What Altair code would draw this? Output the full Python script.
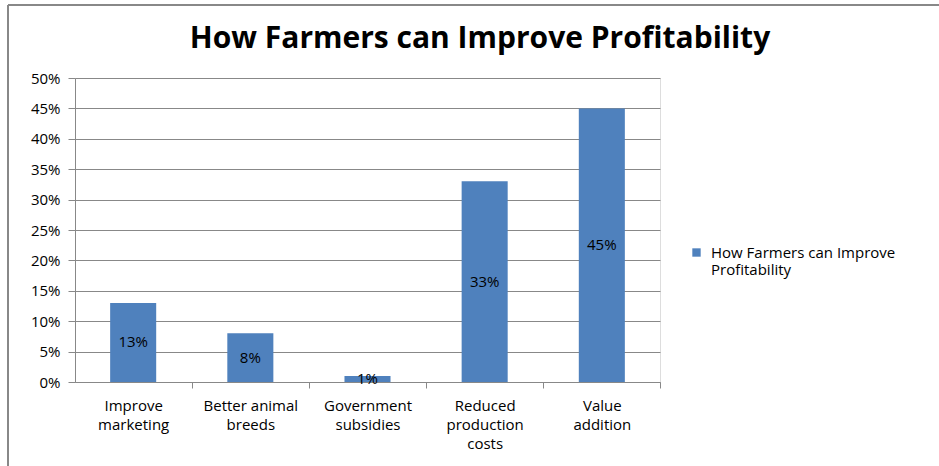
import altair as alt
import pandas as pd

categories = ["Improve marketing", "Better animal breeds", "Government subsidies",
              "Reduced production costs", "Value addition"]
values = [0.13, 0.08, 0.01, 0.33, 0.45]
labels = ["13%", "8%", "1%", "33%", "45%"]
series = "How Farmers can Improve Profitability"
y_ticks = [0.0, 0.05, 0.1, 0.15, 0.2, 0.25, 0.3, 0.35, 0.4, 0.45, 0.5]

df = pd.DataFrame({"cat": categories, "val": values, "lab": labels, "series": series})

FONT = "Open Sans"
FS = 15
W, H = 585, 304
STEP = W / len(categories)

x_axis = alt.Axis(labelAngle=0, labelFont=FONT, labelFontSize=FS,
                  labelColor="#000000", domainColor="#888888", tickColor="#888888",
                  tickSize=6, labelPadding=10, labelLimit=200, labelLineHeight=19,
                  tickOffset=STEP / 2, labelOffset=-STEP / 2,
                  labelExpr="datum.value == 'Improve marketing' ? ['Improve','marketing'] : datum.value == 'Better animal breeds' ? ['Better animal','breeds'] : datum.value == 'Government subsidies' ? ['Government','subsidies'] : datum.value == 'Reduced production costs' ? ['Reduced','production','costs'] : ['Value','addition']")
y_axis = alt.Axis(format=".0%", values=y_ticks,
                  labelOverlap=False,
                  labelFont=FONT, labelFontSize=FS, labelColor="#000000",
                  domainColor="#888888", tickColor="#888888", tickSize=7,
                  gridColor="#888888", gridWidth=1, labelPadding=8)

x = alt.X("cat:N", sort=categories, title=None,
          scale=alt.Scale(paddingInner=0.607, paddingOuter=0.3), axis=x_axis)
y = alt.Y("val:Q", title=None, scale=alt.Scale(domain=[0, 0.5], nice=False), axis=y_axis)

bars = alt.Chart(df).mark_bar(color="#4F81BD").encode(
    x=x, y=y,
    color=alt.Color("series:N", scale=alt.Scale(range=["#4F81BD"]),
                    legend=alt.Legend(title=None, orient="none", legendX=614, legendY=167,
                                      symbolType="square", symbolSize=70,
                                      symbolStrokeWidth=0, symbolOffset=0,
                                      labelFont=FONT, labelFontSize=FS, labelColor="#000000",
                                      labelLimit=300, labelOffset=7,
                                      labelExpr="['How Farmers can Improve', 'Profitability']")),
)

text = alt.Chart(df).transform_calculate(val="datum.val / 2").mark_text(
    font=FONT, fontSize=FS, color="#000000").encode(
    x=x, y=y, text="lab:N")

frame_top = alt.Chart(df).mark_rule(color="#888888", strokeWidth=2, clip=False).encode(
    x=alt.value(-67), x2=alt.value(864), y=alt.value(-73))
frame_left = alt.Chart(df).mark_rule(color="#888888", strokeWidth=2, clip=False).encode(
    x=alt.value(-67), y=alt.value(-73), y2=alt.value(388))

title = alt.Chart(pd.DataFrame({"t": [series]})).mark_text(
    font=FONT, fontSize=30, fontWeight="bold", color="#000000",
    align="center", baseline="alphabetic").encode(
    x=alt.value(405), y=alt.value(-30), text="t:N")

chart = alt.layer(bars, text, frame_top, frame_left, title).properties(
    width=W, height=H,
    padding={"left": 75, "top": 78, "right": 939 - 75 - W, "bottom": 466 - 78 - H},
    autosize=alt.AutoSizeParams(type="none"),
).configure_view(stroke=None).configure(background="white")

chart.save("out.html", embed_options={"renderer": "svg", "actions": False})
